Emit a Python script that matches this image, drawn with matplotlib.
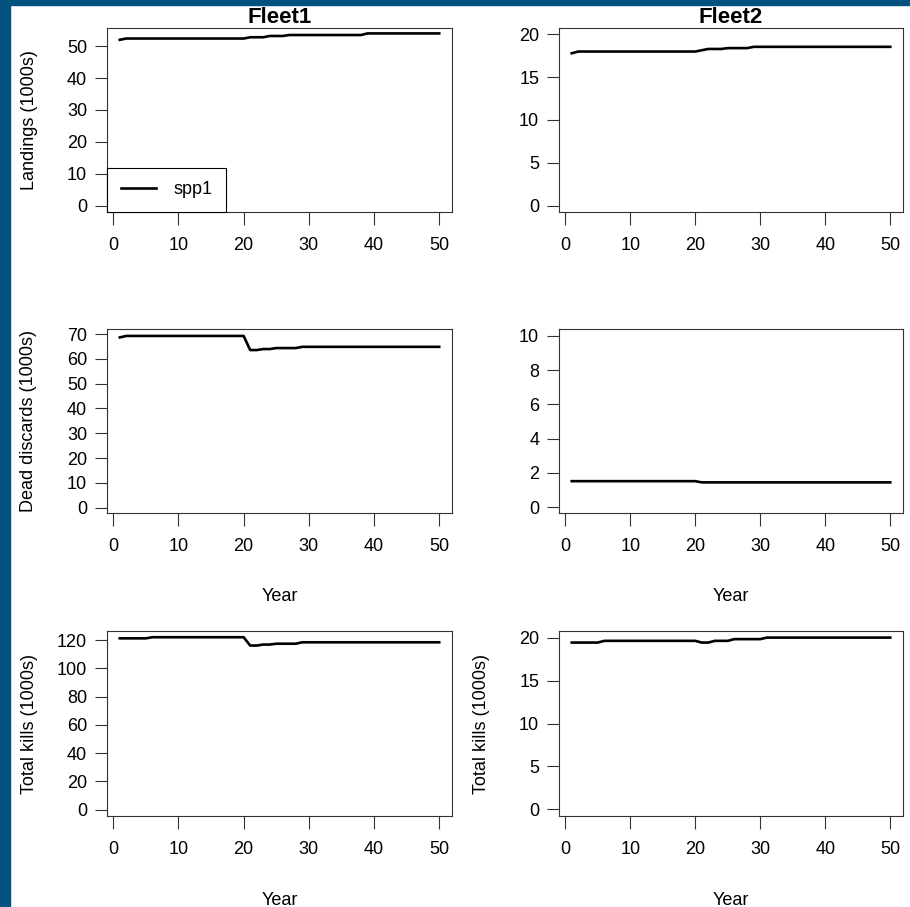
import matplotlib
matplotlib.use("Agg")
import matplotlib.pyplot as plt
from matplotlib.patches import Rectangle

plt.rcParams['font.family'] = ['Liberation Sans', 'DejaVu Sans']
plt.rcParams['font.size'] = 13

years = list(range(1, 51))

# landings (1000s)
land_f1 = [52.0, 52.4, 52.4, 52.4, 52.4, 52.4, 52.4, 52.4, 52.4, 52.4,
           52.4, 52.4, 52.4, 52.4, 52.4, 52.4, 52.4, 52.4, 52.4, 52.4,
           52.8, 52.8, 52.8, 53.2, 53.2, 53.2, 53.5, 53.5, 53.5, 53.5,
           53.5, 53.5, 53.5, 53.5, 53.5, 53.5, 53.5, 53.5, 54.0, 54.0,
           54.0, 54.0, 54.0, 54.0, 54.0, 54.0, 54.0, 54.0, 54.0, 54.0]
land_f2 = [17.8, 18.0, 18.0, 18.0, 18.0, 18.0, 18.0, 18.0, 18.0, 18.0,
           18.0, 18.0, 18.0, 18.0, 18.0, 18.0, 18.0, 18.0, 18.0, 18.0,
           18.15, 18.3, 18.3, 18.3, 18.4, 18.4, 18.4, 18.4, 18.55, 18.55,
           18.55, 18.55, 18.55, 18.55, 18.55, 18.55, 18.55, 18.55, 18.55, 18.55,
           18.55, 18.55, 18.55, 18.55, 18.55, 18.55, 18.55, 18.55, 18.55, 18.55]

# dead discards (1000s)
disc_f1 = [68.7, 69.3, 69.3, 69.3, 69.3, 69.3, 69.3, 69.3, 69.3, 69.3,
           69.3, 69.3, 69.3, 69.3, 69.3, 69.3, 69.3, 69.3, 69.3, 69.3,
           63.6, 63.6, 64.0, 64.0, 64.4, 64.4, 64.4, 64.4, 64.9, 64.9,
           64.9, 64.9, 64.9, 64.9, 64.9, 64.9, 64.9, 64.9, 64.9, 64.9,
           64.9, 64.9, 64.9, 64.9, 64.9, 64.9, 64.9, 64.9, 64.9, 64.9]
disc_f2 = [1.51, 1.51, 1.51, 1.51, 1.51, 1.51, 1.51, 1.51, 1.51, 1.51,
           1.51, 1.51, 1.51, 1.51, 1.51, 1.51, 1.51, 1.51, 1.51, 1.51,
           1.44, 1.44, 1.44, 1.44, 1.44, 1.44, 1.44, 1.44, 1.44, 1.44,
           1.44, 1.44, 1.44, 1.44, 1.44, 1.44, 1.44, 1.44, 1.44, 1.44,
           1.44, 1.44, 1.44, 1.44, 1.44, 1.44, 1.44, 1.44, 1.44, 1.44]

# total kills (1000s)
kill_f1 = [121.3, 121.3, 121.3, 121.3, 121.3, 122.1, 122.1, 122.1, 122.1, 122.1,
           122.1, 122.1, 122.1, 122.1, 122.1, 122.1, 122.1, 122.1, 122.1, 122.1,
           116.2, 116.2, 116.9, 116.9, 117.5, 117.5, 117.5, 117.5, 118.5, 118.5,
           118.5, 118.5, 118.5, 118.5, 118.5, 118.5, 118.5, 118.5, 118.5, 118.5,
           118.5, 118.5, 118.5, 118.5, 118.5, 118.5, 118.5, 118.5, 118.5, 118.5]
kill_f2 = [19.45, 19.45, 19.45, 19.45, 19.45, 19.65, 19.65, 19.65, 19.65, 19.65,
           19.65, 19.65, 19.65, 19.65, 19.65, 19.65, 19.65, 19.65, 19.65, 19.65,
           19.45, 19.45, 19.65, 19.65, 19.65, 19.85, 19.85, 19.85, 19.85, 19.85,
           20.03, 20.03, 20.03, 20.03, 20.03, 20.03, 20.03, 20.03, 20.03, 20.03,
           20.03, 20.03, 20.03, 20.03, 20.03, 20.03, 20.03, 20.03, 20.03, 20.03]

fleets = ['Fleet1', 'Fleet2']
ylabels = ['Landings (1000s)', 'Dead discards (1000s)', 'Total kills (1000s)']
xticks = [0, 10, 20, 30, 40, 50]

W, H = 910, 907
fig = plt.figure(figsize=(W / 100, H / 100), dpi=100)

# panel boxes in pixels: (left, top, right, bottom)
cols = [(107, 452), (559, 903)]
rows = [(28, 212), (329, 513), (631, 816)]

panels = [
    # row, col, data, ylim, yticks, ylabel shown, Year shown
    (0, 0, land_f1, (-2.0, 55.7), range(0, 51, 10), True, False),
    (0, 1, land_f2, (-0.75, 20.75), range(0, 21, 5), False, False),
    (1, 0, disc_f1, (-2.2, 72.1), range(0, 71, 10), True, True),
    (1, 1, disc_f2, (-0.35, 10.4), range(0, 11, 2), False, True),
    (2, 0, kill_f1, (-4.5, 126.5), range(0, 121, 20), True, True),
    (2, 1, kill_f2, (-0.8, 20.8), range(0, 21, 5), True, True),
]

edge = '#333333'
for r, c, vals, ylim, yt, show_ylab, show_year in panels:
    x0, x1 = cols[c]
    y0, y1 = rows[r]
    ax = fig.add_axes([x0 / W, 1 - y1 / H, (x1 - x0) / W, (y1 - y0) / H])
    line, = ax.plot(years, vals, color='black', lw=1.9, label='spp1')
    ax.set_xlim(-0.96, 51.96)
    ax.set_ylim(*ylim)
    ax.set_xticks(xticks)
    ax.set_yticks(list(yt))
    ax.tick_params(axis='x', length=9.2, width=0.8, color=edge, pad=9)
    ax.tick_params(axis='y', length=8.8, width=0.8, color=edge, pad=5.5)
    for s in ax.spines.values():
        s.set_linewidth(0.8)
        s.set_color(edge)
    if r == 0:
        ax.set_title(fleets[c], fontsize=16, fontweight='bold', pad=1.5)
    if show_ylab:
        ax.text(-78 / (x1 - x0), 0.5, ylabels[r], rotation=90, ha='center',
                va='center', transform=ax.transAxes)
    if show_year:
        ax.text(0.5, -0.48, 'Year', ha='center', va='baseline',
                transform=ax.transAxes)
    if r == 0 and c == 0:
        leg = ax.legend(loc='lower left', bbox_to_anchor=(0, 0), borderaxespad=0,
                        fancybox=False, framealpha=1, edgecolor='black',
                        borderpad=0.75, handlelength=1.95, handletextpad=1.0)
        leg.get_frame().set_linewidth(0.8)

# dark blue frame on the left and top edges
blue = '#02517f'
fig.add_artist(Rectangle((0, 0), 10 / W, 1, transform=fig.transFigure,
                         color=blue, zorder=10))
fig.add_artist(Rectangle((0, 1 - 5 / H), 1, 5 / H, transform=fig.transFigure,
                         color=blue, zorder=10))

fig.savefig('out.png', dpi=100)
